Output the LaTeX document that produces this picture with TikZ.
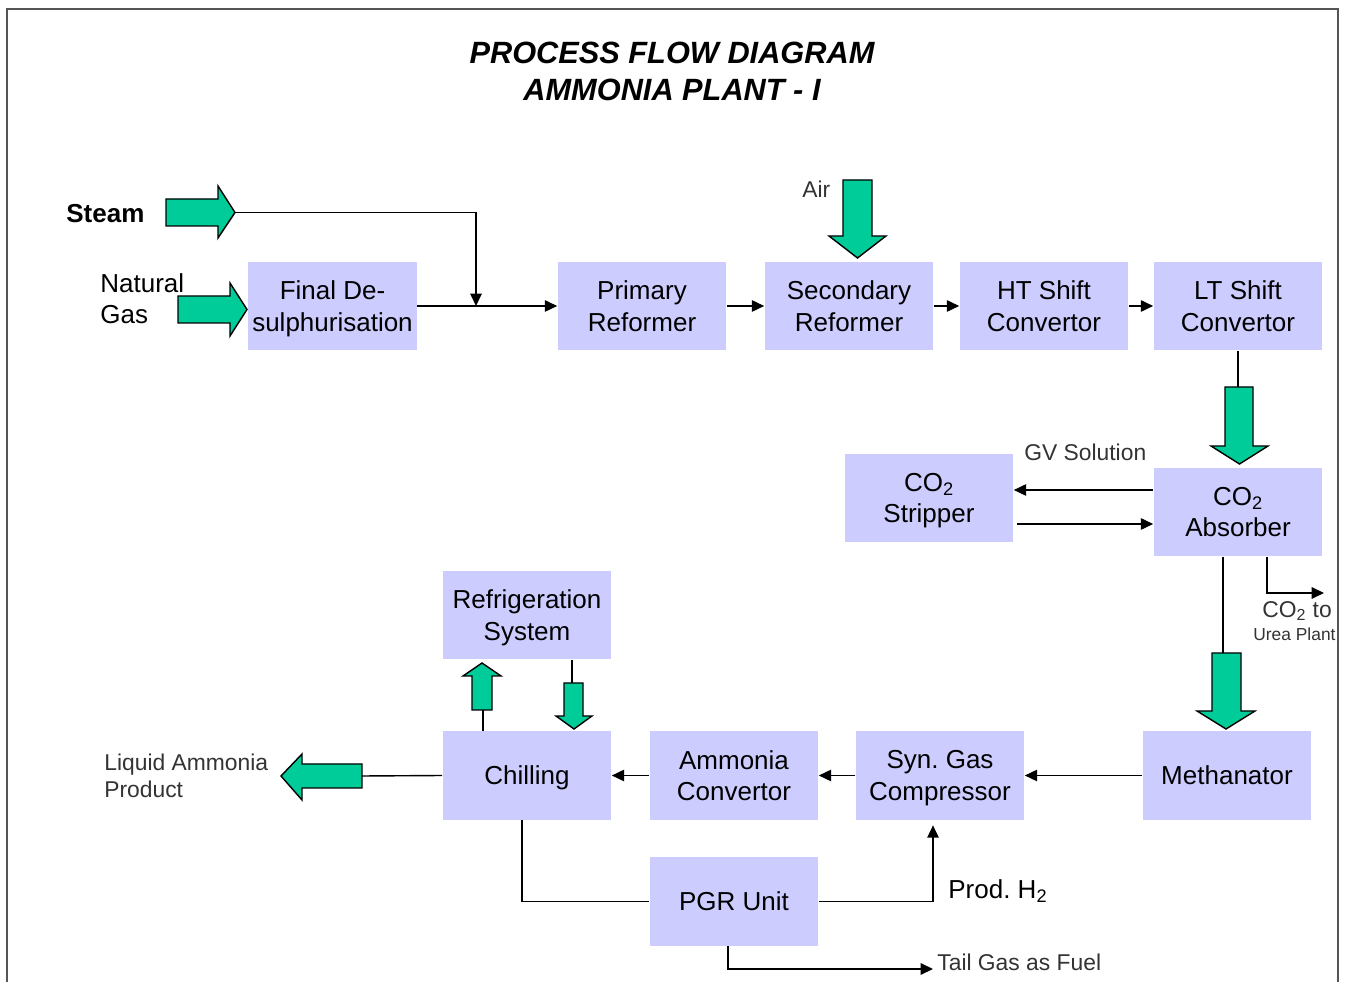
\documentclass[tikz,border=0pt]{standalone}
\usepackage{fontspec}
\setmainfont{Liberation Sans}
\usetikzlibrary{arrows.meta}
\definecolor{unitfill}{HTML}{CCCCFF}
\definecolor{flowgreen}{HTML}{00CC99}
\definecolor{frameline}{HTML}{555555}
\frenchspacing
\begin{document}
\begin{tikzpicture}[x=0.02cm,y=-0.02cm,
  unit/.style={fill=unitfill, minimum width=3.38cm, minimum height=1.77cm,
    inner sep=0pt, align=center, text depth=0pt,
    font=\fontsize{14.8}{18.1}\selectfont},
  flow/.style={line width=0.8pt, -{Triangle[length=7pt,width=6.5pt]}},
  pipe/.style={line width=0.8pt},
  bigarrow/.style={fill=flowgreen, draw=black, line width=0.8pt, line join=miter},
  note/.style={font=\fontsize{13}{15.3}\selectfont, text=black!80,
    inner sep=0pt, align=left, anchor=west},
  tag/.style={font=\fontsize{14.8}{17.6}\selectfont, inner sep=0pt,
    align=left, anchor=west},
]
\useasboundingbox (0,0) rectangle (1346,982);
\fill[white] (0,0) rectangle (1346,982);
\draw[frameline, line width=1.3pt] (7,982) -- (7,9) -- (1338,9) -- (1338,982);

% title
\node[font=\fontsize{17.5}{21}\selectfont\bfseries\itshape, align=center,
  inner sep=0pt] (title) at (672,71.5) {PROCESS FLOW DIAGRAM\\AMMONIA PLANT - I};

% process units
\node[unit] (fds)   at (332.5,306) {Final De-\\sulphurisation};
\node[unit] (prim)  at (642,306)   {Primary\\Reformer};
\node[unit] (sec)   at (849,306)   {Secondary\\Reformer};
\node[unit] (ht)    at (1044,306)  {HT Shift\\Convertor};
\node[unit] (lt)    at (1238,306)  {LT Shift\\Convertor};
\node[unit] (strip) at (929,498)   {CO\textsubscript{2}\\Stripper};
\node[unit] (abs)   at (1238,512)  {CO\textsubscript{2}\\Absorber};
\node[unit] (refr)  at (527,615)   {Refrigeration\\System};
\node[unit] (chill) at (527,775.5) {Chilling};
\node[unit] (amc)   at (734,775.5) {Ammonia\\Convertor};
\node[unit] (syn)   at (940,775.5) {Syn. Gas\\Compressor};
\node[unit] (meth)  at (1227,775.5){Methanator};
\node[unit] (pgr)   at (734,901.5) {PGR Unit};

% feed and product labels
\node[tag, font=\fontsize{14.8}{17.6}\selectfont\bfseries] (steam) at (66,214) {Steam};
\node[tag] (ng) at (100,298.5) {Natural\\Gas};
\node[note] (air) at (802,189) {Air};
\node[note] (gv) at (1024,452) {GV Solution};
\node[note] (co2to) at (1262,611) {CO\textsubscript{2} to};
\node[note, font=\fontsize{9.9}{12}\selectfont] (urea) at (1253,634) {Urea Plant};
\node[note] (liq) at (104,775.5) {Liquid Ammonia\\Product};
\node[tag] (h2) at (948,891) {Prod. H\textsubscript{2}};
\node[note] (tail) at (937,962) {Tail Gas as Fuel};

% broad green flow arrows
\filldraw[bigarrow] (166,199) -- (218,199) -- (218,186) -- (235,212.5)
  -- (218,238) -- (218,226) -- (166,226) -- cycle;
\coordinate (steamtip) at (235,212.5);
\filldraw[bigarrow] (178,296) -- (230,296) -- (230,283) -- (247,309.5)
  -- (230,336) -- (230,323) -- (178,323) -- cycle;
\filldraw[bigarrow] (843,180) -- (872,180) -- (872,236) -- (886,236)
  -- (857.5,258) -- (829,236) -- (843,236) -- cycle;
\filldraw[bigarrow] (1225,387) -- (1253,387) -- (1253,446) -- (1268,446)
  -- (1239.5,464) -- (1211,446) -- (1225,446) -- cycle;
\coordinate (ltarrow) at (1238,387);
\filldraw[bigarrow] (1212,653) -- (1241,653) -- (1241,711) -- (1255,711)
  -- (1226,729) -- (1197,711) -- (1212,711) -- cycle;
\coordinate (metharrow) at (1223,653);
\filldraw[bigarrow] (472,710) -- (472,676) -- (463,676) -- (482,663)
  -- (501,676) -- (492,676) -- (492,710) -- cycle;
\coordinate (uparrow) at (483,710);
\filldraw[bigarrow] (564,683) -- (583,683) -- (583,716) -- (592,716)
  -- (574,729) -- (556,716) -- (564,716) -- cycle;
\coordinate (downarrow) at (572,683);
\filldraw[bigarrow] (362,764) -- (302,764) -- (302,754) -- (281,776)
  -- (302,800) -- (302,788) -- (362,788) -- cycle;
\coordinate (liqarrow) at (362,776);

% process lines
\coordinate (mix) at (476,306);
\draw[flow] (steamtip) -| (mix);
\draw[flow] (fds) -- (prim);
\draw[flow] (prim) -- (sec);
\draw[flow] (sec) -- (ht);
\draw[flow] (ht) -- (lt);
\draw[pipe] (lt.south) -- (ltarrow);
\draw[flow] (abs.west |- 0,490) -- (strip.east |- 0,490);
\draw[flow] ([xshift=0.06cm]strip.east |- 0,524) -- (abs.west |- 0,524);
\coordinate (ureaend) at (1324,593);
\draw[flow] (abs.south -| 1267,0) |- (ureaend);
\draw[pipe] (abs.south -| metharrow) -- (metharrow);
\draw[flow] (meth) -- (syn);
\draw[flow] (syn) -- (amc);
\draw[flow] (amc) -- (chill);
\draw[pipe] (chill.north -| uparrow) -- (uparrow);
\draw[pipe] (refr.south -| downarrow) -- (downarrow);
\draw[pipe] (chill.west) -- (liqarrow);
\draw[pipe] (chill.south -| 522,0) |- (pgr.west);
\draw[flow, shorten >=3pt] (pgr.east) -| (syn.south -| 933,0);
\coordinate (tailend) at (933,969);
\draw[flow] (pgr.south -| 728,0) |- (tailend);
\end{tikzpicture}
\end{document}
